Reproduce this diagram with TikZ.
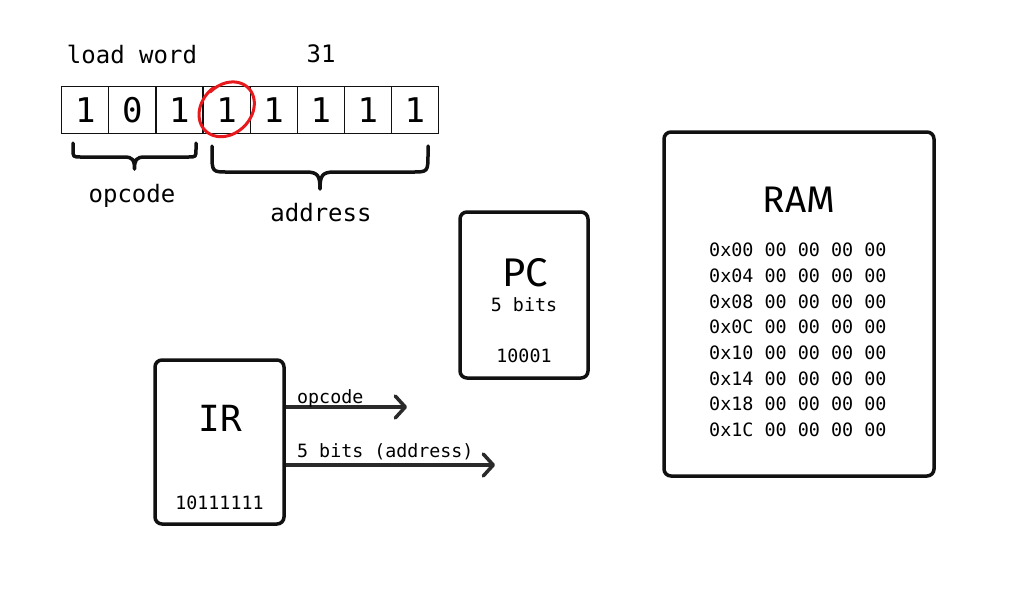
\documentclass[tikz,border=0pt]{standalone}
\usepackage{fontspec}
\setmonofont{DejaVu Sans Mono}
\newfontfamily\titlefont{Fira Sans}
\usetikzlibrary{arrows.meta}
\definecolor{ink}{HTML}{111111}
\definecolor{arrowc}{HTML}{2A2A2A}
\definecolor{redmark}{HTML}{E8191C}
\tikzset{
  cell/.style={draw=ink, line width=1.1pt, minimum width=47pt, minimum height=47pt, inner sep=0pt,
    font=\ttfamily\fontsize{34}{38}\selectfont},
  mono/.style={font=\ttfamily\fontsize{#1}{#1}\selectfont, inner sep=0pt},
  regbox/.style={draw=ink, line width=3.5pt, rounded corners=7pt, inner sep=0pt},
  brace/.style={draw=ink, line width=3.5pt, line cap=round, line join=round},
  flow/.style={draw=arrowc, line width=3.5pt, -{Straight Barb[length=10pt,width=22pt,line cap=round,line join=round]}},
}
\begin{document}
\begin{tikzpicture}[x=1pt,y=-1pt]
\useasboundingbox (0,0) rectangle (1024,600);

% bit cells
\foreach \b [count=\i] in {1,0,1,1,1,1,1,1}{
  \node[cell] (c\i) at ({61.7+47.1*(\i-0.5)},110.3) {\b};
}
\node[mono=24] (lw) at (132,54) {load word};
\node[mono=24] (n31) at (321,54) {31};

% red circle
\draw[redmark, line width=3pt, line cap=round, line join=round]
  plot[domain=80:450, samples=90, smooth]
  ({227+0.707*(31*(1-0.00012*(\x-80))*cos(\x)-25*(1-0.00012*(\x-80))*sin(\x))},
   {109-0.707*(31*(1-0.00012*(\x-80))*cos(\x)+25*(1-0.00012*(\x-80))*sin(\x))});

% braces
\draw[brace] (73,143) -- (73,149) .. controls (73,157) .. (81,157) -- (124,157)
  .. controls (133,157) and (134.5,160) .. (134.5,169)
  .. controls (134.5,160) and (136,157) .. (145,157) -- (188,157)
  .. controls (196,157) .. (196,149) -- (196,143);
\draw[brace] (212,146) -- (212,153) .. controls (212,172) .. (228,172) -- (306,172)
  .. controls (318,172) and (320,176) .. (320,189)
  .. controls (320,176) and (322,172) .. (334,172) -- (412,172)
  .. controls (428,172) .. (428,153) -- (428,146);
\node[mono=24] (opl) at (132,196) {opcode};
\node[mono=24] (adl) at (321,213) {address};

% PC
\node[regbox, minimum width=128pt, minimum height=166pt] (pc) at (524,295) {};
\node[font=\titlefont\fontsize{40}{40}\selectfont, inner sep=0pt] (pct) at (525,273) {PC};
\node[mono=18.3] (pcb) at (524,305) {5 bits};
\node[mono=18.3] (pcv) at (524,356) {10001};

% IR
\node[regbox, minimum width=129pt, minimum height=164pt] (ir) at (219.5,442) {};
\node[mono=36] (irt) at (220,418) {IR};
\node[mono=18.3] (irv) at (219.5,503) {10111111};

\coordinate (op) at (407,407);
\coordinate (ad) at (495,465);
\draw[flow] (ir.east |- op) -- (op);
\draw[flow] (ir.east |- ad) -- (ad);
\node[mono=18.3, anchor=base west] (opt) at (297,403) {opcode};
\node[mono=18.3, anchor=base west] (adt) at (297,457) {5 bits (address)};

% RAM
\node[regbox, minimum width=270pt, minimum height=344pt] (ram) at (799,304) {};
\node[font=\titlefont\fontsize{37}{37}\selectfont, inner sep=0pt] (ramt) at (799,200) {RAM};
\foreach \a [count=\i] in {00,04,08,0C,10,14,18,1C}{
  \node[mono=18.4, anchor=west] (r\i) at (709,{250+25.7*(\i-1)}) {0x\a{} 00 00 00 00};
}
\end{tikzpicture}
\end{document}
